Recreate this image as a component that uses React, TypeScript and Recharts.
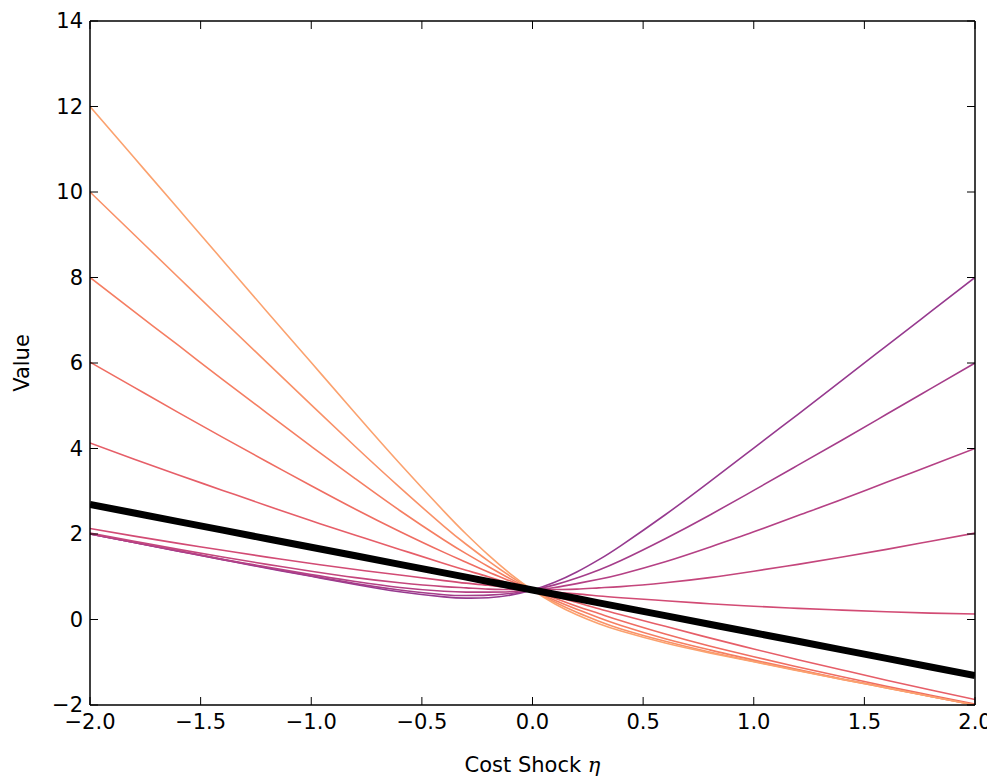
import React from "react";
import { LineChart, Line, XAxis, YAxis } from "recharts";

const xs = [-2, -1.8, -1.6, -1.4, -1.2, -1, -0.8, -0.6, -0.4, -0.3, -0.2, -0.1, 0, 0.1, 0.2, 0.3, 0.4, 0.6, 0.8, 1, 1.2, 1.4, 1.6, 1.8, 2];

const curveA4 = [2.0, 1.8, 1.6, 1.4, 1.2, 1.01, 0.82, 0.65, 0.53, 0.5, 0.51, 0.57, 0.69, 0.87, 1.11, 1.4, 1.73, 2.45, 3.22, 4.01, 4.8, 5.6, 6.4, 7.2, 8.0];
const curveA3 = [2.0, 1.8, 1.6, 1.4, 1.21, 1.02, 0.84, 0.69, 0.58, 0.56, 0.57, 0.61, 0.69, 0.81, 0.97, 1.16, 1.38, 1.89, 2.44, 3.02, 3.61, 4.2, 4.8, 5.4, 6.0];
const curveA2 = [2.0, 1.8, 1.61, 1.41, 1.23, 1.05, 0.89, 0.75, 0.66, 0.64, 0.64, 0.65, 0.69, 0.75, 0.84, 0.94, 1.06, 1.35, 1.69, 2.05, 2.43, 2.81, 3.21, 3.6, 4.0];
const curveA1 = [2.02, 1.83, 1.64, 1.46, 1.29, 1.13, 0.98, 0.86, 0.77, 0.74, 0.71, 0.7, 0.69, 0.7, 0.71, 0.74, 0.77, 0.86, 0.98, 1.13, 1.29, 1.46, 1.64, 1.83, 2.02];
const curveA0 = [2.13, 1.95, 1.78, 1.62, 1.46, 1.31, 1.17, 1.04, 0.91, 0.85, 0.8, 0.74, 0.69, 0.64, 0.6, 0.55, 0.51, 0.44, 0.37, 0.31, 0.26, 0.22, 0.18, 0.15, 0.13];
const curveBlack = [2.69, 2.49, 2.29, 2.09, 1.89, 1.69, 1.49, 1.29, 1.09, 0.99, 0.89, 0.79, 0.69, 0.59, 0.49, 0.39, 0.29, 0.09, -0.11, -0.31, -0.51, -0.71, -0.91, -1.11, -1.31];
const curveM2 = [4.13, 3.75, 3.38, 3.02, 2.66, 2.31, 1.97, 1.64, 1.31, 1.15, 1.0, 0.84, 0.69, 0.54, 0.4, 0.25, 0.11, -0.16, -0.43, -0.69, -0.94, -1.18, -1.42, -1.65, -1.87];
const curveM3 = [6.02, 5.43, 4.84, 4.26, 3.69, 3.13, 2.58, 2.06, 1.57, 1.34, 1.11, 0.9, 0.69, 0.5, 0.31, 0.14, -0.03, -0.34, -0.62, -0.87, -1.11, -1.34, -1.56, -1.77, -1.98];
const curveM4 = [8.0, 7.2, 6.41, 5.61, 4.83, 4.05, 3.29, 2.55, 1.86, 1.54, 1.24, 0.95, 0.69, 0.45, 0.24, 0.04, -0.14, -0.45, -0.71, -0.95, -1.17, -1.39, -1.59, -1.8, -2.0];
const curveM5 = [10.0, 9.0, 8.0, 7.0, 6.01, 5.02, 4.04, 3.09, 2.18, 1.76, 1.37, 1.01, 0.69, 0.41, 0.17, -0.04, -0.22, -0.51, -0.76, -0.98, -1.19, -1.4, -1.6, -1.8, -2.0];
const curveM6 = [12.0, 10.8, 9.6, 8.4, 7.2, 6.01, 4.82, 3.65, 2.53, 2.0, 1.51, 1.07, 0.69, 0.37, 0.11, -0.1, -0.27, -0.55, -0.78, -0.99, -1.2, -1.4, -1.6, -1.8, -2.0];

const xTicks = [-2, -1.5, -1, -0.5, 0, 0.5, 1, 1.5, 2];
const yTicks = [-2, 0, 2, 4, 6, 8, 10, 12, 14];

const seriesKeys = ["a4", "a3", "a2", "a1", "a0", "m2", "m3", "m4", "m5", "m6"];
const seriesArrays = [curveA4, curveA3, curveA2, curveA1, curveA0, curveM2, curveM3, curveM4, curveM5, curveM6];
const seriesColors = ["#963a8f", "#a53d8a", "#b54185", "#c4467c", "#d24b74", "#e65e68", "#ef6d62", "#f57e62", "#f99168", "#fba26f"];

const rows = xs.map((x, i) => {
  const r: Record<string, number> = { x, black: curveBlack[i] };
  seriesKeys.forEach((k, j) => {
    r[k] = seriesArrays[j][i];
  });
  return r;
});

const FONT = "'DejaVu Sans', sans-serif";
const fmtX = (v: number) => v.toFixed(1).replace("-", "\u2212");
const fmtY = (v: number) => String(v).replace("-", "\u2212");

const Empty = () => <g />;

const XLabel = (props: any) => {
  const vb = props.viewBox || {};
  const cx = vb.x + vb.width / 2;
  return (
    <text x={cx} y={764} textAnchor="middle" fontFamily={FONT} fontSize={21} fill="#000">
      <tspan>Cost Shock </tspan>
      <tspan fontFamily="'DejaVu Serif', serif" fontStyle="italic">η</tspan>
    </text>
  );
};

const YLabel = (props: any) => {
  const vb = props.viewBox || {};
  const cy = vb.y + vb.height / 2;
  return (
    <text x={0} y={0} transform={`translate(21, ${cy}) rotate(-90)`} textAnchor="middle" fontFamily={FONT} fontSize={21} fill="#000">
      Value
    </text>
  );
};

export default function App() {
  const axisLine = { stroke: "#000", strokeWidth: 1.5 };
  const tickLine = { stroke: "#000", strokeWidth: 1 };
  const tickStyle = { fontFamily: FONT, fontSize: 21, fill: "#000" };
  return (
    <div style={{ width: 987, height: 771, background: "#fff" }}>
      <LineChart width={987} height={771} data={rows} margin={{ top: 0, right: 0, bottom: 0, left: 0 }}>
        <XAxis
          xAxisId="b"
          dataKey="x"
          type="number"
          domain={[-2, 2]}
          ticks={xTicks}
          allowDataOverflow
          orientation="bottom"
          height={74}
          tickFormatter={fmtX}
          tickSize={-8}
          tickMargin={17}
          axisLine={axisLine}
          tickLine={tickLine}
          tick={tickStyle}
          interval={0}
          label={<XLabel />}
        />
        <XAxis
          xAxisId="t"
          dataKey="x"
          type="number"
          domain={[-2, 2]}
          ticks={xTicks}
          allowDataOverflow
          orientation="top"
          height={13}
          tickSize={-8}
          axisLine={axisLine}
          tickLine={tickLine}
          tick={<Empty />}
          interval={0}
        />
        <YAxis
          yAxisId="l"
          type="number"
          domain={[-2, 14]}
          ticks={yTicks}
          allowDataOverflow
          width={82}
          tickFormatter={fmtY}
          tickSize={-8}
          tickMargin={15}
          axisLine={axisLine}
          tickLine={tickLine}
          tick={tickStyle}
          interval={0}
          label={<YLabel />}
        />
        <YAxis
          yAxisId="r"
          orientation="right"
          type="number"
          domain={[-2, 14]}
          ticks={yTicks}
          allowDataOverflow
          width={20}
          tickSize={-8}
          axisLine={axisLine}
          tickLine={tickLine}
          tick={<Empty />}
          interval={0}
        />
        {seriesKeys.map((k, j) => (
          <Line
            key={k}
            xAxisId="b"
            yAxisId="l"
            dataKey={k}
            type="natural"
            stroke={seriesColors[j]}
            strokeWidth={1.6}
            dot={false}
            isAnimationActive={false}
          />
        ))}
        <Line
          xAxisId="b"
          yAxisId="l"
          dataKey="black"
          type="linear"
          stroke="#000"
          strokeWidth={7}
          dot={false}
          isAnimationActive={false}
        />
      </LineChart>
    </div>
  );
}
